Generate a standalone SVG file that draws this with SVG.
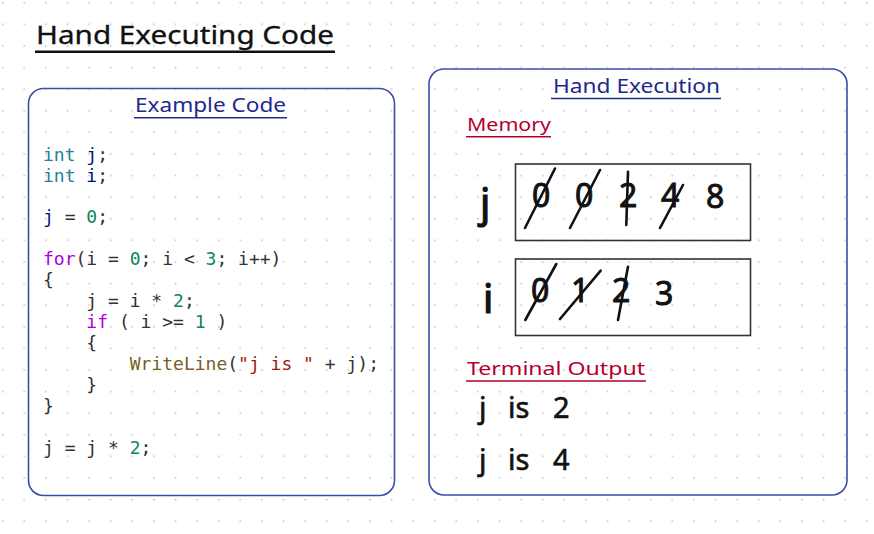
<svg xmlns="http://www.w3.org/2000/svg" width="874" height="534" viewBox="0 0 874 534">
<defs>
<pattern id="dots" x="0" y="0" width="21.6" height="21.6" patternUnits="userSpaceOnUse">
<circle cx="2.7" cy="2.7" r="0.9" fill="#c4c4c4"/>
</pattern>
</defs>
<style>
.hand{font-family:"Noto Sans","Open Sans","DejaVu Sans",sans-serif;}
.title{font-size:25px;fill:#111;stroke:#111;stroke-width:0.3;}
.head{font-size:19px;fill:#1e2a8c;}
.sub{font-size:18px;fill:#b3002d;}
.box{fill:none;stroke:#3c4cab;stroke-width:1.6;}
.mem{fill:none;stroke:#333;stroke-width:1.6;}
.code{font-family:"DejaVu Sans Mono","Liberation Mono",monospace;font-size:18px;fill:#333;white-space:pre;}
.kw{fill:#267f99}.var{fill:#001080}.num{fill:#098658}.ctl{fill:#af00db}.fn{fill:#795e26}.str{fill:#a31515}
.big{font-size:40px;fill:#111;stroke:#111;stroke-width:1.2;}
.dig{font-size:32px;fill:#111;stroke:#111;stroke-width:0.9;}
.out{font-size:29px;fill:#111;stroke:#111;stroke-width:0.6;}
.strike{stroke:#111;stroke-width:2.6;stroke-linecap:round;fill:none;}
</style>
<rect width="874" height="534" fill="#ffffff"/>
<rect width="874" height="534" fill="url(#dots)"/>

<g id="title">
<text class="hand title" x="36" y="43.5" textLength="298" lengthAdjust="spacingAndGlyphs">Hand Executing Code</text>
<line x1="35" y1="51.7" x2="335" y2="51.7" stroke="#111" stroke-width="2.6"/>
</g>

<g id="example-code">
<rect class="box" x="28.5" y="88.5" width="366" height="407" rx="15"/>
<text class="hand head" x="135" y="111.5" textLength="151" lengthAdjust="spacingAndGlyphs">Example Code</text>
<line x1="134" y1="117.7" x2="287" y2="117.7" stroke="#1e2a8c" stroke-width="1.6"/>
<text class="code" x="43" y="160.5"><tspan class="kw">int</tspan> <tspan class="var">j</tspan>;</text>
<text class="code" x="43" y="181.5"><tspan class="kw">int</tspan> <tspan class="var">i</tspan>;</text>
<text class="code" x="43" y="223.4"><tspan class="var">j</tspan> = <tspan class="num">0</tspan>;</text>
<text class="code" x="43" y="265.3"><tspan class="ctl">for</tspan>(i = <tspan class="num">0</tspan>; i &lt; <tspan class="num">3</tspan>; i++)</text>
<text class="code" x="43" y="286.2">{</text>
<text class="code" x="43" y="307.2">    j = i * <tspan class="num">2</tspan>;</text>
<text class="code" x="43" y="328.1">    <tspan class="ctl">if</tspan> ( i &gt;= <tspan class="num">1</tspan> )</text>
<text class="code" x="43" y="349.1">    {</text>
<text class="code" x="43" y="370">        <tspan class="fn">WriteLine</tspan>(<tspan class="str">"j is "</tspan> + j);</text>
<text class="code" x="43" y="391">    }</text>
<text class="code" x="43" y="412">}</text>
<text class="code" x="43" y="453.5">j = j * <tspan class="num">2</tspan>;</text>
</g>

<g id="hand-execution">
<rect class="box" x="429" y="69" width="418" height="426" rx="15"/>
<text class="hand head" x="553" y="92.5" textLength="167" lengthAdjust="spacingAndGlyphs">Hand Execution</text>
<line x1="551" y1="98.5" x2="721" y2="98.5" stroke="#1e2a8c" stroke-width="1.6"/>
</g>

<g id="memory">
<text class="hand sub" x="467" y="131" textLength="84" lengthAdjust="spacingAndGlyphs">Memory</text>
<line x1="466" y1="136.7" x2="551" y2="136.7" stroke="#b3002d" stroke-width="1.6"/>
</g>

<g id="memory-j">
<text class="hand big" x="480" y="217">j</text>
<rect class="mem" x="515.5" y="164" width="235" height="76.5"/>
<text class="hand dig" x="532" y="207">0</text>
<text class="hand dig" x="575" y="207">0</text>
<text class="hand dig" x="619" y="207">2</text>
<text class="hand dig" x="661" y="207">4</text>
<text class="hand dig" x="706" y="208">8</text>
<line class="strike" x1="525" y1="228" x2="555" y2="168.5"/>
<line class="strike" x1="570" y1="228" x2="600" y2="170"/>
<line class="strike" x1="626.3" y1="225" x2="628" y2="171.7"/>
<line class="strike" x1="660" y1="228" x2="683" y2="185"/>
</g>

<g id="memory-i">
<text class="hand big" x="483" y="313">i</text>
<rect class="mem" x="515.5" y="259" width="235" height="76.5"/>
<text class="hand dig" x="531" y="302">0</text>
<text class="hand dig" x="571" y="302">1</text>
<text class="hand dig" x="612" y="302">2</text>
<text class="hand dig" x="655" y="305">3</text>
<line class="strike" x1="525.3" y1="320" x2="556.3" y2="264"/>
<line class="strike" x1="560" y1="319" x2="600.7" y2="270.7"/>
<line class="strike" x1="618" y1="320" x2="628" y2="266.7"/>
</g>

<g id="terminal-output">
<text class="hand sub" x="467" y="375" textLength="178" lengthAdjust="spacingAndGlyphs">Terminal Output</text>
<line x1="466" y1="381" x2="646" y2="381" stroke="#b3002d" stroke-width="1.6"/>
<text class="hand out" x="479" y="418">j</text>
<text class="hand out" x="508" y="418">is</text>
<text class="hand out" x="553" y="418">2</text>
<text class="hand out" x="479" y="470">j</text>
<text class="hand out" x="508" y="470">is</text>
<text class="hand out" x="553" y="470">4</text>
</g>
</svg>
